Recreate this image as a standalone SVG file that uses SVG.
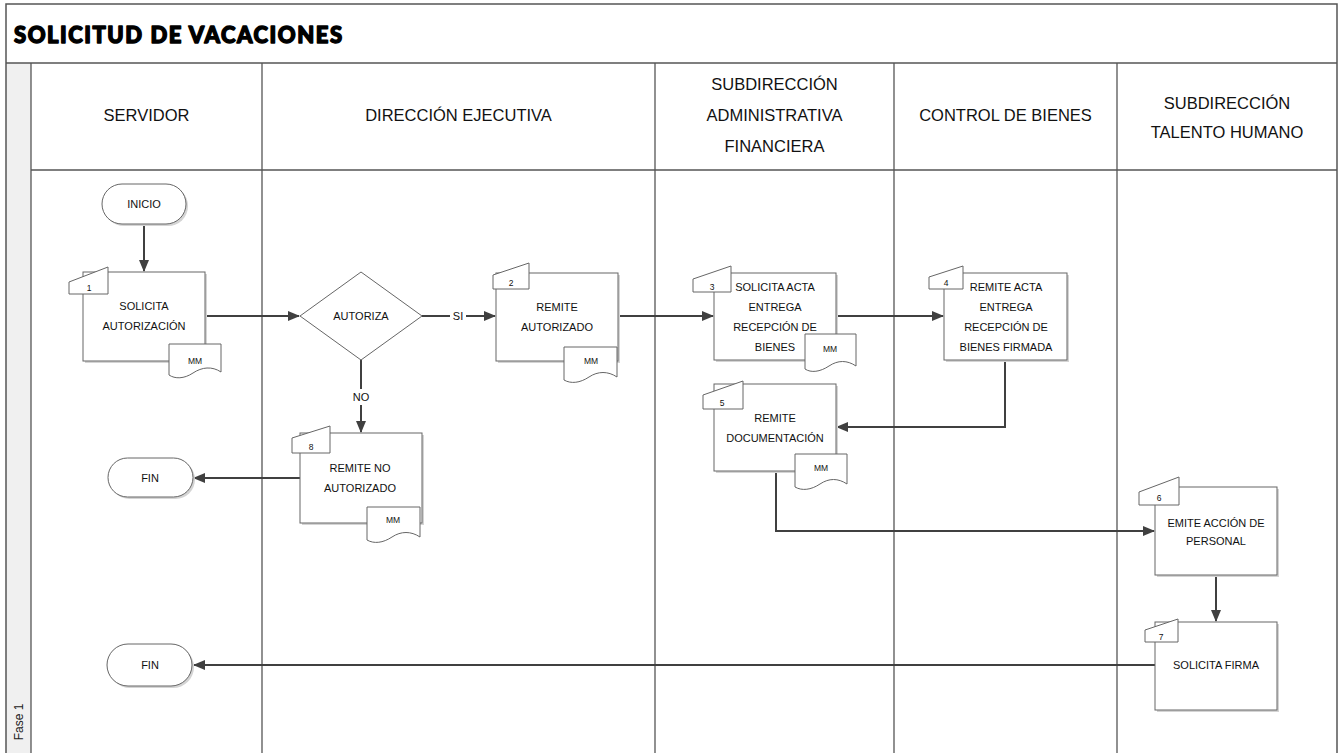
<svg xmlns="http://www.w3.org/2000/svg" width="1340" height="753" viewBox="0 0 1340 753">
<defs>
<marker id="arr" markerWidth="12" markerHeight="10" refX="11" refY="5" orient="auto" markerUnits="userSpaceOnUse">
<path d="M0,0 L12,5 L0,10 Z" fill="#404040"/>
</marker>
<style>
.frame{fill:none;stroke:#555;stroke-width:1.5}
.lane{stroke:#555;stroke-width:1.3;fill:none}
.hdr{font-family:"Liberation Sans",Arial,sans-serif;font-size:16.5px;fill:#111;text-anchor:middle}
.title{font-family:"Lato","Liberation Sans",sans-serif;font-weight:900;font-size:22px;fill:#000;stroke:#000;stroke-width:1.4;stroke-linejoin:round}
.box{fill:#fff;stroke:#666;stroke-width:1}
.shd{fill:#d4d4d4;stroke:none}
.tab{fill:#fff;stroke:#666;stroke-width:1}
.t{font-family:"Liberation Sans",Arial,sans-serif;font-size:11px;fill:#111;text-anchor:middle}
.s{font-family:"Liberation Sans",Arial,sans-serif;font-size:8.5px;fill:#111;text-anchor:middle}
.con{fill:none;stroke:#404040;stroke-width:2}
</style>
</defs>
<rect x="0" y="0" width="1340" height="753" fill="#fff"/>
<g id="pool">
<rect x="6" y="63" width="25" height="700" fill="#f0f0f0"/>
<rect x="6" y="4" width="1331" height="770" class="frame"/>
<line x1="6" y1="63" x2="1337" y2="63" class="frame"/>
<line x1="31" y1="170" x2="1337" y2="170" class="lane"/>
<line x1="31" y1="63" x2="31" y2="753" class="lane"/>
<line x1="262" y1="63" x2="262" y2="753" class="lane"/>
<line x1="655" y1="63" x2="655" y2="753" class="lane"/>
<line x1="894" y1="63" x2="894" y2="753" class="lane"/>
<line x1="1117" y1="63" x2="1117" y2="753" class="lane"/>
<text x="14" y="43" class="title" textLength="328" lengthAdjust="spacing">SOLICITUD DE VACACIONES</text>
<text x="146.5" y="121" class="hdr">SERVIDOR</text>
<text x="458.5" y="121" class="hdr">DIRECCIÓN EJECUTIVA</text>
<text x="774.5" y="90" class="hdr">SUBDIRECCIÓN</text>
<text x="774.5" y="121" class="hdr">ADMINISTRATIVA</text>
<text x="774.5" y="152" class="hdr">FINANCIERA</text>
<text x="1005.5" y="121" class="hdr">CONTROL DE BIENES</text>
<text x="1227" y="109" class="hdr">SUBDIRECCIÓN</text>
<text x="1227" y="138" class="hdr">TALENTO HUMANO</text>
<text x="23" y="722" transform="rotate(-90 23 722)" font-family="'Liberation Sans',Arial,sans-serif" font-size="12" fill="#222" text-anchor="middle">Fase 1</text>
</g>
<g id="connectors">
<line x1="144" y1="224" x2="144" y2="271" class="con" marker-end="url(#arr)"/>
<line x1="205" y1="316" x2="299" y2="316" class="con" marker-end="url(#arr)"/>
<line x1="422" y1="316" x2="495" y2="316" class="con" marker-end="url(#arr)"/>
<line x1="361" y1="360" x2="361" y2="432" class="con" marker-end="url(#arr)"/>
<line x1="618" y1="316" x2="713" y2="316" class="con" marker-end="url(#arr)"/>
<line x1="836" y1="316" x2="943" y2="316" class="con" marker-end="url(#arr)"/>
<polyline points="1005,360 1005,427 837,427" class="con" marker-end="url(#arr)"/>
<polyline points="776,471 776,531 1154,531" class="con" marker-end="url(#arr)"/>
<line x1="1216" y1="575" x2="1216" y2="621" class="con" marker-end="url(#arr)"/>
<line x1="300" y1="478" x2="194" y2="478" class="con" marker-end="url(#arr)"/>
<line x1="1155" y1="665" x2="194" y2="665" class="con" marker-end="url(#arr)"/>
<rect x="450" y="308" width="16" height="16" fill="#fff"/>
<text x="458" y="320" class="t">SI</text>
<rect x="349" y="389" width="24" height="16" fill="#fff"/>
<text x="361" y="401" class="t">NO</text>
</g>
<g id="inicio">
<rect x="104" y="186" width="84" height="40" rx="20" class="shd"/>
<rect x="102" y="184" width="84" height="40" rx="20" class="box"/>
<text x="144" y="208" class="t">INICIO</text>
</g>
<g id="n1">
<rect x="85" y="274" width="122" height="89" class="shd"/>
<rect x="83" y="272" width="122" height="89" class="box"/>
<polygon points="69,282 108,267 108,294 69,294" class="tab"/>
<text x="89" y="291" class="s">1</text>
<text x="144" y="310" class="t">SOLICITA</text>
<text x="144" y="330" class="t">AUTORIZACIÓN</text>
<path d="M169,344 H221 V372 C212,366 202,367 193,373 C184,379 175,379 169,375 Z" class="box"/>
<text x="195" y="364" class="s">MM</text>
</g>
<g id="autoriza">
<polygon points="361,272 422,316 361,360 300,316" class="box"/>
<text x="361" y="320" class="t">AUTORIZA</text>
</g>
<g id="n2">
<rect x="498" y="275" width="122" height="88" class="shd"/>
<rect x="496" y="273" width="122" height="88" class="box"/>
<polygon points="493,275 529,263 529,289 493,289" class="tab"/>
<text x="511" y="286" class="s">2</text>
<text x="557" y="311" class="t">REMITE</text>
<text x="557" y="331" class="t">AUTORIZADO</text>
<path d="M564,347 H617 V377 C608,371 598,371 589,377 C580,383 571,384 564,380 Z" class="box"/>
<text x="591" y="364" class="s">MM</text>
</g>
<g id="n8">
<rect x="302" y="435" width="122" height="90" class="shd"/>
<rect x="300" y="433" width="122" height="90" class="box"/>
<polygon points="292,438 330,426 330,453 292,453" class="tab"/>
<text x="311" y="450" class="s">8</text>
<text x="360" y="472" class="t">REMITE NO</text>
<text x="360" y="492" class="t">AUTORIZADO</text>
<path d="M367,507 H420 V537 C411,531 401,531 392,537 C383,543 374,544 367,540 Z" class="box"/>
<text x="393" y="523" class="s">MM</text>
</g>
<g id="fin1">
<rect x="110" y="460" width="85" height="39" rx="19.5" class="shd"/>
<rect x="108" y="458" width="85" height="39" rx="19.5" class="box"/>
<text x="150" y="482" class="t">FIN</text>
</g>
<g id="fin2">
<rect x="109" y="646" width="85" height="42" rx="21" class="shd"/>
<rect x="107" y="644" width="85" height="42" rx="21" class="box"/>
<text x="150" y="669" class="t">FIN</text>
</g>
<g id="n3">
<rect x="716" y="275" width="122" height="87" class="shd"/>
<rect x="714" y="273" width="122" height="87" class="box"/>
<polygon points="693,279 731,266 731,292 693,292" class="tab"/>
<text x="712" y="290" class="s">3</text>
<text x="775" y="291" class="t">SOLICITA ACTA</text>
<text x="775" y="311" class="t">ENTREGA</text>
<text x="775" y="331" class="t">RECEPCIÓN DE</text>
<text x="775" y="351" class="t">BIENES</text>
<path d="M805,334 H856 V366 C847,360 838,360 829,366 C820,372 811,373 805,369 Z" class="box"/>
<text x="830" y="352" class="s">MM</text>
</g>
<g id="n4">
<rect x="946" y="275" width="123" height="87" class="shd"/>
<rect x="944" y="273" width="123" height="87" class="box"/>
<polygon points="929,277 963,266 963,289 929,289" class="tab"/>
<text x="946" y="286" class="s">4</text>
<text x="1006" y="291" class="t">REMITE ACTA</text>
<text x="1006" y="311" class="t">ENTREGA</text>
<text x="1006" y="331" class="t">RECEPCIÓN DE</text>
<text x="1006" y="351" class="t">BIENES FIRMADA</text>
</g>
<g id="n5">
<rect x="716" y="386" width="122" height="87" class="shd"/>
<rect x="714" y="384" width="122" height="87" class="box"/>
<polygon points="703,395 743,381 743,409 703,409" class="tab"/>
<text x="722" y="406" class="s">5</text>
<text x="775" y="422" class="t">REMITE</text>
<text x="775" y="442" class="t">DOCUMENTACIÓN</text>
<path d="M795,454 H847 V484 C838,478 829,478 820,484 C811,490 802,491 795,487 Z" class="box"/>
<text x="821" y="471" class="s">MM</text>
</g>
<g id="n6">
<rect x="1157" y="489" width="122" height="88" class="shd"/>
<rect x="1155" y="487" width="122" height="88" class="box"/>
<polygon points="1139,492 1179,477 1179,505 1139,505" class="tab"/>
<text x="1159" y="501" class="s">6</text>
<text x="1216" y="527" class="t">EMITE ACCIÓN DE</text>
<text x="1216" y="545" class="t">PERSONAL</text>
</g>
<g id="n7">
<rect x="1157" y="624" width="122" height="88" class="shd"/>
<rect x="1155" y="622" width="122" height="88" class="box"/>
<polygon points="1145,630 1178,619 1178,642 1145,642" class="tab"/>
<text x="1161" y="640" class="s">7</text>
<text x="1216" y="669" class="t">SOLICITA FIRMA</text>
</g>
</svg>
